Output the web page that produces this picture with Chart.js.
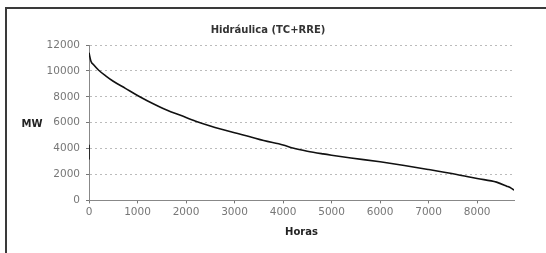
<!DOCTYPE html>
<html>
<head>
<meta charset="utf-8">
<script src="https://cdn.jsdelivr.net/npm/chart.js@4/dist/chart.umd.min.js"></script>
<style>
    html, body { margin: 0; padding: 0; background: #fff; overflow: hidden; }
    .wrap { position: relative; width: 546px; height: 253px; }
    .frame { position: absolute; left: 5px; top: 7px; width: 600px; height: 400px; border: 2px solid #3a3a3a; }
    canvas { position: absolute; left: 0; top: 0; }
</style>
</head>
<body>
<div class="wrap">
    <div class="frame"></div>
    <canvas id="curveChart" width="546" height="253"></canvas>
</div>
<script>
// duration curve
const hours = [0, 40, 100, 200, 350, 500, 750, 1000, 1200, 1600, 1900, 2200, 2500, 3000, 3300, 3600,
    4000, 4200, 4500, 4825, 5000, 5400, 6000, 6500, 7000, 7580, 8000, 8400, 8610, 8700, 8760];
const mw = [11400, 10750, 10450, 10050, 9600, 9200, 8650, 8100, 7700, 6980, 6550, 6120, 5750, 5220, 4930, 4620,
    4280, 4050, 3800, 3590, 3490, 3280, 2980, 2700, 2385, 2000, 1690, 1410, 1100, 950, 790];

// short dark stroke on the y axis at hour 0
const spikeHours = [0, 0];
const spikeMW = [4300, 3150];

const yTicks = [0, 2000, 4000, 6000, 8000, 10000, 12000];
const xTicks = [0, 1000, 2000, 3000, 4000, 5000, 6000, 7000, 8000];

const toPoints = (xs, ys) => xs.map((x, i) => ({ x: x, y: ys[i] }));

// "MW" is written horizontally, so draw it by hand
const mwLabel = {
    id: 'mwLabel',
    afterDraw(chart) {
        const ctx = chart.ctx;
        ctx.save();
        ctx.font = 'bold 10px "DejaVu Sans"';
        ctx.fillStyle = '#222';
        ctx.textAlign = 'center';
        ctx.textBaseline = 'middle';
        ctx.fillText('MW', 32, 124);
        ctx.restore();
    }
};

const tickFont = { family: 'DejaVu Sans', size: 10.5 };
const plain = v => String(v); // no thousands separator

new Chart(document.getElementById('curveChart').getContext('2d'), {
    type: 'line',
    data: {
        datasets: [{
            data: toPoints(hours, mw),
            borderColor: '#111',
            borderWidth: 1.6,
            pointRadius: 0,
            cubicInterpolationMode: 'monotone'
        }, {
            data: toPoints(spikeHours, spikeMW),
            borderColor: '#111',
            borderWidth: 1.6,
            pointRadius: 0
        }]
    },
    options: {
        responsive: false,
        animation: false,
        layout: { padding: { left: 22, right: 32, top: 24, bottom: 11 } },
        scales: {
            x: {
                type: 'linear',
                min: 0,
                max: 8760,
                afterBuildTicks: s => { s.ticks = xTicks.map(v => ({ value: v })); },
                ticks: { color: '#777', font: tickFont, padding: 3, maxRotation: 0, callback: plain },
                grid: { drawOnChartArea: false, tickLength: 3, tickColor: '#777' },
                border: { color: '#888', width: 1 },
                title: { display: true, text: 'Horas', color: '#222', font: { family: 'DejaVu Sans', size: 10, weight: 'bold' } }
            },
            y: {
                min: 0,
                max: 12000,
                afterBuildTicks: s => { s.ticks = yTicks.map(v => ({ value: v })); },
                afterFit: s => { s.width = 67; },
                ticks: { color: '#777', font: tickFont, padding: 6, callback: plain },
                grid: { color: '#bbb', tickLength: 3, tickColor: '#777', tickBorderDash: [] },
                border: { color: '#888', width: 1, dash: [2, 3] }
            }
        },
        plugins: {
            legend: { display: false },
            tooltip: { enabled: false },
            title: {
                display: true,
                text: 'Hidráulica (TC+RRE)',
                color: '#333',
                font: { family: 'DejaVu Sans', size: 10, weight: 'bold' },
                padding: { top: 0, bottom: 9 }
            }
        }
    },
    plugins: [mwLabel]
});
</script>
</body>
</html>
